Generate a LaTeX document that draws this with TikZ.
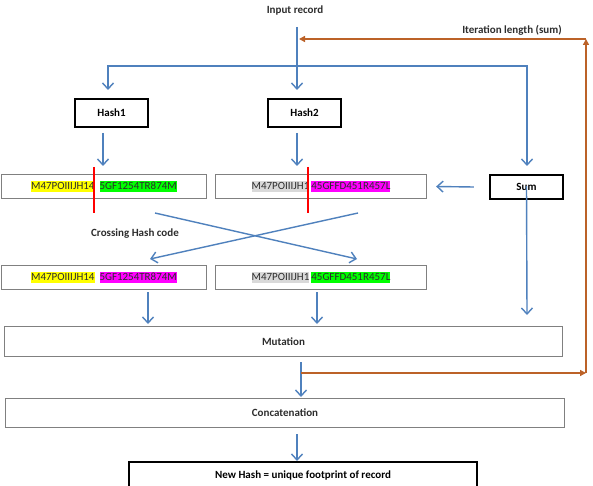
\documentclass[tikz,border=0pt]{standalone}
\usepackage{fontspec}
\setmainfont{Carlito}
\usetikzlibrary{arrows.meta}
\definecolor{arrblue}{RGB}{79,129,189}
\definecolor{brn}{RGB}{188,98,40}
\definecolor{hlgray}{RGB}{217,217,217}
\definecolor{hlgreen}{RGB}{0,255,0}
\definecolor{hlmag}{RGB}{255,0,255}
\definecolor{hlyel}{RGB}{255,255,0}
\definecolor{boxgray}{RGB}{128,128,128}
\definecolor{txt}{RGB}{45,45,45}
\newcommand\hlb[2]{{\setlength{\fboxsep}{0pt}\colorbox{#1}{\rule[-2.5pt]{0pt}{11pt}#2}}}
\begin{document}
\begin{tikzpicture}[x=1pt,y=-1pt,font=\fontsize{11}{13}\selectfont,
  thickbox/.style={draw=black,line width=2.2pt,inner sep=0pt,font=\fontsize{11}{13}\selectfont\bfseries},
  graybox/.style={draw=boxgray,line width=1.3pt,inner sep=0pt,text=txt},
  lbl/.style={inner sep=1pt,font=\fontsize{11}{13}\selectfont\bfseries,text=txt},
  barr/.style={draw=arrblue,line width=1.4pt,-{Straight Barb[length=6pt,width=11pt,line width=1.4pt]}},
  rarr/.style={draw=brn,line width=1.4pt,-{Triangle[length=6pt,width=6pt]}},
  redline/.style={draw=red,line width=1.3pt}]
\useasboundingbox (0,0) rectangle (593,486);
\fill[white] (0,0) rectangle (593,486);

% text labels
\node[lbl] (input) at (295,11) {Input record};
\node[lbl] (iter) at (512,30) {Iteration length (sum)};
\node[lbl] (cross) at (135,234) {Crossing Hash code};

% boxes
\node[thickbox,minimum width=73pt,minimum height=28pt] (hash1) at (111.5,113) {Hash1};
\node[thickbox,minimum width=73pt,minimum height=28pt] (hash2) at (304.5,113) {Hash2};
\node[thickbox,minimum width=73pt,minimum height=24pt] (sum) at (526.5,187) {Sum};

\node[graybox,minimum width=205pt,minimum height=24pt] (r1l) at (104,186.5)
  {\hlb{hlyel}{M47POIIIJH14}\hspace{5pt}\hlb{hlgreen}{5GF1254TR874M}};
\node[graybox,minimum width=211pt,minimum height=24pt] (r1r) at (321,186.5)
  {\hlb{hlgray}{M47POIIIJH1}\hspace{2pt}\hlb{hlmag}{45GFFD451R457L}};
\node[graybox,minimum width=205pt,minimum height=24pt] (r2l) at (104,277.5)
  {\hlb{hlyel}{M47POIIIJH14}\hspace{5pt}\hlb{hlmag}{5GF1254TR874M}};
\node[graybox,minimum width=211pt,minimum height=24pt] (r2r) at (321,277.5)
  {\hlb{hlgray}{M47POIIIJH1}\hspace{2pt}\hlb{hlgreen}{45GFFD451R457L}};

\node[graybox,minimum width=558pt,minimum height=30pt,font=\fontsize{11}{13}\selectfont\bfseries] (mut) at (283.5,341.5) {Mutation};
\node[graybox,minimum width=559pt,minimum height=29pt,font=\fontsize{11}{13}\selectfont\bfseries] (conc) at (285,413) {Concatenation};
\node[thickbox,minimum width=348pt,minimum height=26pt] (final) at (303,475) {New Hash = unique footprint of record};

% coordinates
\coordinate (top) at (297,27);
\coordinate (split) at (297,66);
\coordinate (h1in) at (108,90);
\coordinate (h2in) at (297,90);
\coordinate (sumin) at (527,166);
\coordinate (h1o) at (103,133);
\coordinate (h1t) at (103,166);
\coordinate (h2o) at (297,133);
\coordinate (h2t) at (297,166);

% input branching
\draw[barr] (top) -- (h2in);
\draw[barr] (split) -| (h1in);
\draw[barr] (split) -| (sumin);

% hash outputs
\draw[barr] (h1o) -- (h1t);
\draw[barr] (h2o) -- (h2t);

% red split marks
\draw[redline] (94,167) -- (94,213);
\draw[redline] (308,167) -- (308,213);

% sum to row 1 right
\draw[barr] ([xshift=-15pt]sum.west) -- ([xshift=9pt]r1r.east);

% crossing
\coordinate (c1a) at (155,213);
\coordinate (c1b) at (357,259);
\coordinate (c2a) at (358,213);
\coordinate (c2b) at (150,259);
\draw[barr] (c1a) -- (c1b);
\draw[barr] (c2a) -- (c2b);

% to mutation
\coordinate (m1a) at (148,292);
\coordinate (m1b) at (148,324);
\coordinate (m2a) at (317,292);
\coordinate (m2b) at (317,324);
\coordinate (m3b) at (527,315);
\draw[barr] (m1a) -- (m1b);
\draw[barr] (m2a) -- (m2b);
\draw[barr] ([yshift=14pt]sum.south) -- (m3b);

% mutation to concatenation
\coordinate (mo) at (301,362);
\coordinate (ci) at (301,397);
\coordinate (mc) at (301,373);
\draw[barr] (mo) -- (ci);
% concatenation to final
\coordinate (co) at (297,434);
\coordinate (fi) at (297,461);
\draw[barr] (co) -- (fi);

% brown feedback loop
\coordinate (br1) at (586,373);
\coordinate (br2) at (586,39);
\coordinate (br3) at (299,39);
\draw[rarr] (mc) -- (br1);
\draw[rarr] (br1) -- (br2);
\draw[rarr] (br2) -- (br3);
\end{tikzpicture}
\end{document}
